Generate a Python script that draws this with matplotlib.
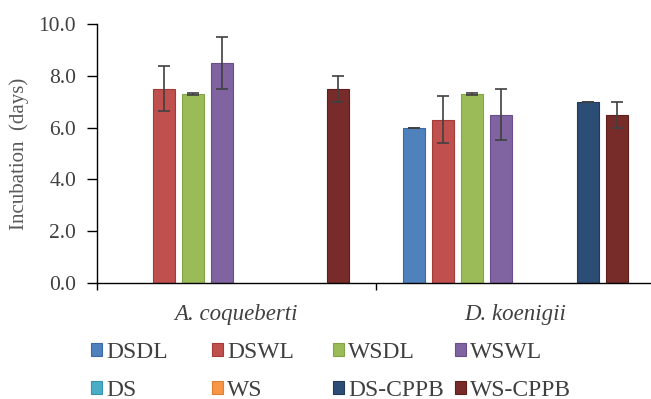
import numpy as np
import matplotlib.pyplot as plt
from matplotlib.patches import Patch

plt.rcParams['font.family'] = ['Liberation Serif', 'DejaVu Serif']

# dados
especies = ['A. coqueberti', 'D. koenigii']
series = ['DSDL', 'DSWL', 'WSDL', 'WSWL', 'DS', 'WS', 'DS-CPPB', 'WS-CPPB']
cores = ['#4F81BD', '#C0504D', '#9BBB59', '#8064A2', '#4BACC6', '#F79646', '#2C4D75', '#772C2A']
bordas = ['#3A6BA8', '#A33B38', '#84A545', '#6A4E8C', '#3593AD', '#E07F2E', '#1F3A5C', '#5E1E1C']

medias = {
    'DSDL':    [np.nan, 6.0],
    'DSWL':    [7.5, 6.3],
    'WSDL':    [7.3, 7.3],
    'WSWL':    [8.5, 6.5],
    'DS':      [np.nan, np.nan],
    'WS':      [np.nan, np.nan],
    'DS-CPPB': [np.nan, 7.0],
    'WS-CPPB': [7.5, 6.5],
}
erros = {
    'DSDL':    [np.nan, 0.0],
    'DSWL':    [0.88, 0.9],
    'WSDL':    [0.03, 0.03],
    'WSWL':    [1.0, 1.0],
    'DS':      [np.nan, np.nan],
    'WS':      [np.nan, np.nan],
    'DS-CPPB': [np.nan, 0.0],
    'WS-CPPB': [0.5, 0.5],
}

fig = plt.figure(figsize=(6.51, 3.99), dpi=100)
ax = fig.add_axes([0.149, 0.291, 0.857, 0.649])

x = np.arange(len(especies))
passo = 0.104
largura = 0.079
for i, s in enumerate(series):
    pos = x + (i - 3.5) * passo
    ax.bar(pos, medias[s], width=largura, color=cores[i], edgecolor=bordas[i],
           linewidth=0.8)
    ax.errorbar(pos, medias[s], yerr=erros[s], fmt='none', ecolor='#404040',
                elinewidth=1.2, capsize=4, capthick=1.2)

ax.set_xlim(-0.5, 1.5)
ax.set_ylim(0, 10)
ax.set_yticks(np.arange(0, 10.1, 2))
ax.set_yticklabels(['%.1f' % v for v in np.arange(0, 10.1, 2)])
ax.set_xticks(x)
ax.set_xticklabels(especies, fontstyle='italic', fontsize=16.5, color='#404040')
ax.set_xticks([-0.5, 0.5, 1.5], minor=True)
ax.tick_params(axis='x', which='major', length=0, pad=15)
ax.tick_params(axis='x', which='minor', length=5, width=1, direction='out')
ax.tick_params(axis='y', length=7, width=1, direction='out', labelsize=15.5,
               labelcolor='#404040', pad=8)

for lado in ['top', 'right']:
    ax.spines[lado].set_visible(False)
ax.spines['left'].set_linewidth(1)
ax.spines['bottom'].set_linewidth(1)

ax.set_ylabel('Incubation  (days)', fontsize=15, color='#595959', labelpad=7)

# legenda em 4 colunas de largura igual, como no original
col_x = [91, 212, 333, 455]
for c in range(4):
    itens = [c, c + 4]
    handles = [Patch(facecolor=cores[i], edgecolor=bordas[i], linewidth=0.8) for i in itens]
    fig.legend(handles, [series[i] for i in itens], loc='upper left',
               bbox_to_anchor=(col_x[c] / 651, 1 - 342 / 399),
               frameon=False, fontsize=17, handlelength=0.47, handleheight=0.47,
               handletextpad=0.17, labelspacing=0.7, borderpad=0,
               borderaxespad=0, labelcolor='#404040')

plt.savefig('out.png', dpi=100)
